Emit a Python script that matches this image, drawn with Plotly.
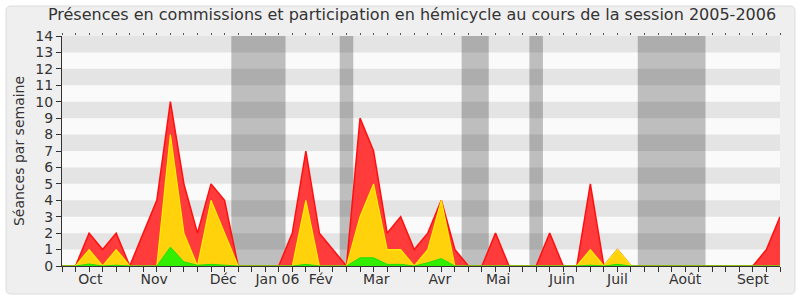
import plotly.graph_objects as go

# week index (0 = start of the session axis)
weeks = list(range(54))

# red: participation totale
red = [0, 0, 2, 1, 2, 0, 2, 4, 10, 5, 2, 5, 4, 0, 0, 0, 0, 2, 7, 2,
       1, 0, 9, 7, 2, 3, 1, 2, 4, 1, 0, 0, 2, 0, 0, 0, 2, 0, 0, 5,
       0, 1, 0, 0, 0, 0, 0, 0, 0, 0, 0, 0, 1, 3]
# yellow
yellow = [0, 0, 1, 0, 1, 0, 0, 0, 8, 2, 0, 4, 2, 0, 0, 0, 0, 0, 4, 0,
          0, 0, 3, 5, 1, 1, 0, 1, 4, 0, 0, 0, 0, 0, 0, 0, 0, 0, 0, 1,
          0, 1, 0, 0, 0, 0, 0, 0, 0, 0, 0, 0, 0, 0]
# green
green = [0, 0, 0.12, 0, 0.05, 0, 0, 0, 1.15, 0.25, 0.05, 0.1, 0.05, 0, 0, 0, 0, 0, 0.1, 0,
         0, 0, 0.5, 0.5, 0.1, 0.1, 0, 0.2, 0.45, 0, 0, 0, 0, 0, 0, 0, 0, 0, 0, 0.05,
         0, 0.1, 0, 0, 0, 0, 0, 0, 0, 0, 0, 0, 0, 0]

# month labels and their positions (in weeks)
month_labels = ["Oct", "Nov", "Déc", "Jan 06", "Fév", "Mar", "Avr", "Mai",
                "Juin", "Juil", "Août", "Sept"]
month_pos = [2.1, 6.8, 11.9, 15.9, 19.1, 23.2, 27.9, 32.2, 36.9, 41.0, 46.0, 51.0]

# parliamentary holidays (week spans)
vac_start = [12.5, 20.5, 29.5, 34.5, 42.5]
vac_end = [16.5, 21.5, 31.5, 35.5, 47.5]

fig = go.Figure()

fig.add_trace(go.Scatter(x=weeks, y=red, mode="lines", fill="tozeroy",
                         line=dict(color="#ff1010", width=1.5),
                         fillcolor="#ff3b3b", hoverinfo="skip", showlegend=False))
fig.add_trace(go.Scatter(x=weeks, y=yellow, mode="lines", fill="tozeroy",
                         line=dict(color="#ffee00", width=1.2),
                         fillcolor="#ffd20c", hoverinfo="skip", showlegend=False))
fig.add_trace(go.Scatter(x=weeks, y=green, mode="lines", fill="tozeroy",
                         line=dict(color="#22dd00", width=1),
                         fillcolor="#33ee00", hoverinfo="skip", showlegend=False))
# helper invisible trace for the top axis
fig.add_trace(go.Scatter(x=[0, 53], y=[0, 0], xaxis="x2", mode="lines",
                         line=dict(width=0), hoverinfo="skip", showlegend=False))

shapes = []
# rounded frame
L, R = (6 - 62) / 718, (795 - 62) / 718
T, B = (266 - 6) / 230, (266 - 294) / 230
dx, dy = 5 / 718, 5 / 230
path = (f"M {L+dx},{T} L {R-dx},{T} Q {R},{T} {R},{T-dy} L {R},{B+dy} "
        f"Q {R},{B} {R-dx},{B} L {L+dx},{B} Q {L},{B} {L},{B+dy} "
        f"L {L},{T-dy} Q {L},{T} {L+dx},{T} Z")
shapes.append(dict(type="path", path=path, xref="paper", yref="paper",
                   fillcolor="#efefef", line=dict(color="#dcdcdc", width=1),
                   layer="below"))
# plot background
shapes.append(dict(type="rect", xref="paper", yref="paper", x0=0, x1=1, y0=0, y1=1,
                   fillcolor="#fafafa", line=dict(width=0), layer="below"))
# holidays
for s, e in zip(vac_start, vac_end):
    shapes.append(dict(type="rect", xref="x", yref="paper", x0=s, x1=e, y0=0, y1=1,
                       fillcolor="#bebebe", line=dict(width=0), layer="below"))
# horizontal stripes
for k in range(1, 14, 2):
    shapes.append(dict(type="rect", xref="paper", yref="y", x0=0, x1=1, y0=k, y1=k + 1,
                       fillcolor="rgba(0,0,0,0.085)", line=dict(width=0), layer="below"))

fig.update_layout(
    width=800, height=300,
    margin=dict(l=62, r=20, t=36, b=34),
    paper_bgcolor="white",
    plot_bgcolor="rgba(0,0,0,0)",
    font=dict(family="DejaVu Sans", color="#333333", size=14),
    title=dict(text="Présences en commissions et participation en hémicycle au cours de la session 2005-2006",
               x=0.515, xanchor="center", y=1 - 14 / 300, yanchor="middle", yref="container",
               font=dict(size=16, color="#333333")),
    shapes=shapes,
    xaxis=dict(range=[0, 53], tickvals=month_pos, ticktext=month_labels,
               ticks="", showgrid=False, zeroline=False,
               showline=True, linecolor="#333333", linewidth=1,
               minor=dict(ticks="outside", dtick=1, tick0=0, ticklen=5,
                          tickcolor="#333333", showgrid=False),
               tickfont=dict(size=14, color="#333333")),
    xaxis2=dict(range=[0, 53], overlaying="x", side="top", anchor="y",
                tickmode="linear", tick0=0, dtick=1, ticks="outside", ticklen=2,
                tickcolor="#555555", showticklabels=False, showgrid=False,
                zeroline=False, showline=False),
    yaxis=dict(range=[0, 14], tickmode="linear", tick0=0, dtick=1,
               ticks="outside", ticklen=5, tickcolor="#333333",
               showgrid=False, zeroline=False, showline=True,
               linecolor="#333333", linewidth=1,
               tickfont=dict(size=14, color="#333333"),
               title=dict(text="Séances par semaine", font=dict(size=14, color="#333333"),
                          standoff=7)),
)

fig.write_html("out.html")
